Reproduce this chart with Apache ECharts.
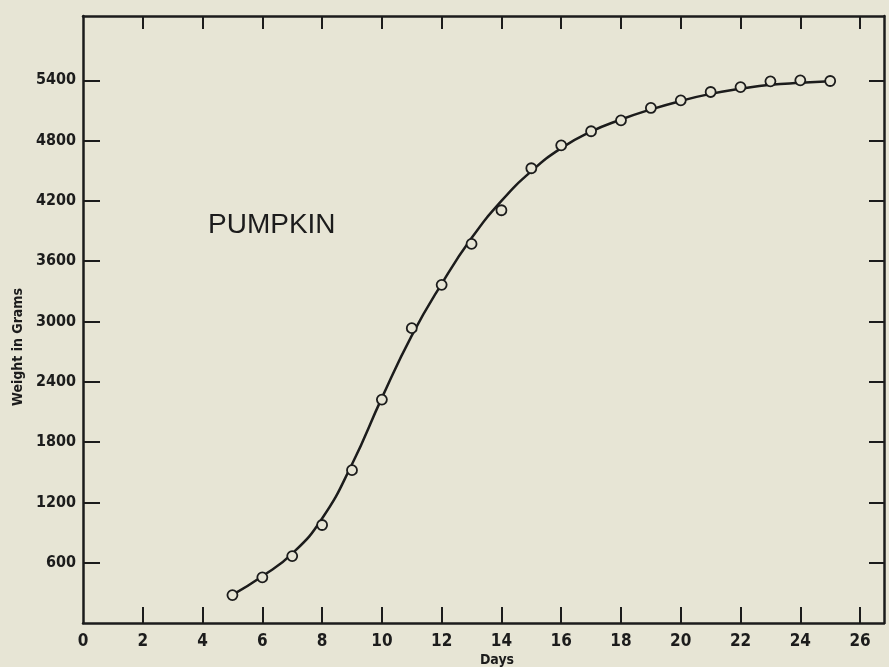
<!DOCTYPE html>
<html>
<head>
<meta charset="utf-8">
<title>Pumpkin</title>
<script src="https://cdn.jsdelivr.net/npm/echarts@6/dist/echarts.min.js"></script>
<style>
  html, body { margin: 0; padding: 0; background: #e7e5d5; }
  #chart { width: 889px; height: 667px; }
</style>
</head>
<body>
<div id="chart"></div>
<script>
// days of the observations
const days = [5, 6, 7, 8, 9, 10, 11, 12, 13, 14, 15, 16, 17, 18, 19, 20, 21, 22, 23, 24, 25]
// measured weights (circles)
const weights = [278, 454, 666, 975, 1521, 2223, 2934, 3365, 3772, 4107, 4525, 4753, 4893, 5002, 5125, 5201, 5284, 5333, 5390, 5400, 5393]
// fitted curve
const curve = [280, 465, 690, 1040, 1580, 2240, 2860, 3375, 3830, 4200, 4495, 4725, 4890, 5010, 5110, 5195, 5265, 5315, 5355, 5375, 5390]

const xLabels = [0, 2, 4, 6, 8, 10, 12, 14, 16, 18, 20, 22, 24, 26]
const xTicks = [2, 4, 6, 8, 10, 12, 14, 16, 18, 20, 22, 24, 26]
const yTicks = [600, 1200, 1800, 2400, 3000, 3600, 4200, 4800, 5400]

const ink = '#1c1c1c'
const paper = '#e7e5d5'
const numFont = "'DejaVu Sans Condensed', 'Liberation Sans Narrow', sans-serif"

const axisLine = { show: true, onZero: false, lineStyle: { color: ink, width: 2.5 } }

const chart = echarts.init(document.getElementById('chart'))

chart.setOption({
  backgroundColor: paper,
  animation: false,
  grid: { left: 83, right: 5, top: 16, bottom: 44 },
  xAxis: [
    {
      type: 'value',
      position: 'bottom',
      min: 0,
      max: 26.8,
      axisLine: axisLine,
      axisTick: { show: true, inside: true, length: 16, customValues: xTicks, lineStyle: { color: ink, width: 2 } },
      axisLabel: { customValues: xLabels, color: ink, fontFamily: numFont, fontWeight: 'bold', fontSize: 17, margin: 10 },
      splitLine: { show: false }
    },
    {
      type: 'value',
      position: 'top',
      min: 0,
      max: 26.8,
      axisLine: axisLine,
      axisTick: { show: true, inside: true, length: 13, customValues: xTicks, lineStyle: { color: ink, width: 2 } },
      axisLabel: { show: false },
      splitLine: { show: false }
    }
  ],
  yAxis: [
    {
      type: 'value',
      position: 'left',
      min: 0,
      max: 6040,
      axisLine: axisLine,
      axisTick: { show: true, inside: true, length: 17, customValues: yTicks, lineStyle: { color: ink, width: 2 } },
      axisLabel: {
        customValues: yTicks,
        formatter: (v) => String(v),
        color: ink,
        fontFamily: numFont,
        fontWeight: 'bold',
        fontSize: 16,
        margin: 7
      },
      splitLine: { show: false }
    },
    {
      type: 'value',
      position: 'right',
      min: 0,
      max: 6040,
      axisLine: axisLine,
      axisTick: { show: true, inside: true, length: 15, customValues: yTicks, lineStyle: { color: ink, width: 2 } },
      axisLabel: { show: false },
      splitLine: { show: false }
    }
  ],
  graphic: [
    {
      type: 'text',
      left: 208,
      top: 211,
      style: { text: 'PUMPKIN', fill: ink, font: "28px 'Liberation Sans', Arial, sans-serif" }
    },
    {
      type: 'text',
      x: 18,
      y: 347,
      rotation: Math.PI / 2,
      style: {
        text: 'Weight in Grams',
        fill: ink,
        font: "bold 14px " + numFont,
        align: 'center',
        verticalAlign: 'middle'
      }
    },
    {
      type: 'text',
      x: 497,
      y: 660,
      style: {
        text: 'Days',
        fill: ink,
        font: "bold 14px " + numFont,
        align: 'center',
        verticalAlign: 'middle'
      }
    }
  ],
  series: [
    {
      type: 'line',
      data: days.map((d, i) => [d, curve[i]]),
      smooth: true,
      showSymbol: false,
      lineStyle: { color: ink, width: 2.5 },
      z: 2
    },
    {
      type: 'scatter',
      data: days.map((d, i) => [d, weights[i]]),
      symbol: 'circle',
      symbolSize: 10,
      itemStyle: { color: paper, borderColor: ink, borderWidth: 1.8, opacity: 1 },
      z: 3
    }
  ]
})
</script>
</body>
</html>
